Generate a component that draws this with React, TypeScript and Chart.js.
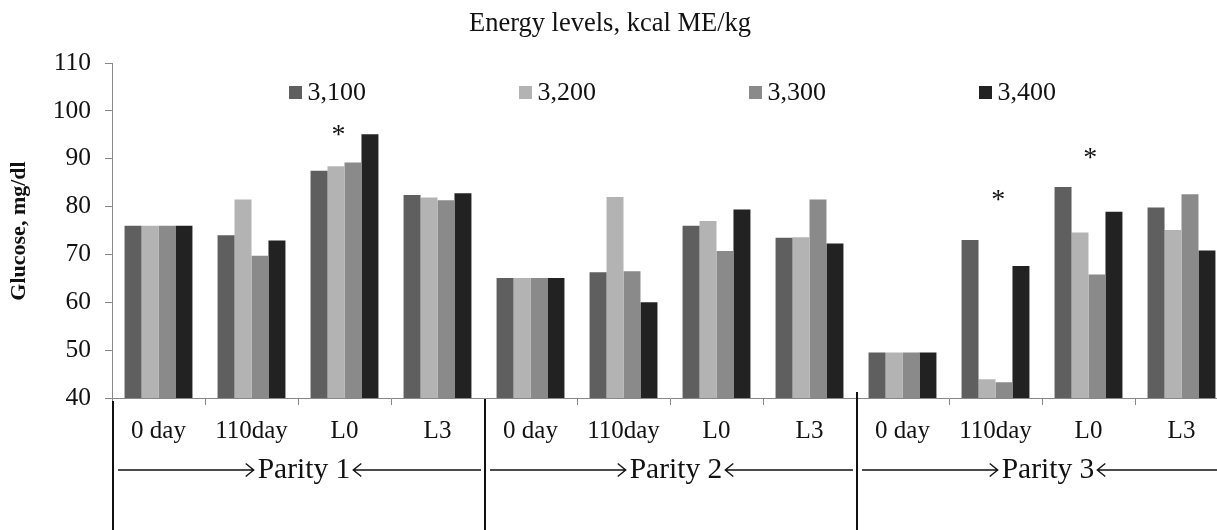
import React, { useEffect, useRef } from 'react';
import { Chart, registerables } from 'chart.js';
Chart.register(...registerables);

// ---------- data ----------
const categories = ['0 day', '110day', 'L0', 'L3', '0 day', '110day', 'L0', 'L3', '0 day', '110day', 'L0', 'L3'];
const energyLevels = ['3,100', '3,200', '3,300', '3,400'];
const glucose3100 = [76.0, 74.0, 87.5, 82.4, 65.1, 66.3, 76.0, 73.5, 49.5, 73.0, 84.1, 79.8];
const glucose3200 = [76.0, 81.5, 88.4, 81.9, 65.1, 82.0, 77.0, 73.6, 49.5, 43.9, 74.6, 75.1];
const glucose3300 = [76.0, 69.7, 89.2, 81.3, 65.1, 66.5, 70.7, 81.5, 49.5, 43.3, 65.8, 82.6];
const glucose3400 = [76.0, 72.9, 95.1, 82.8, 65.1, 60.0, 79.4, 72.3, 49.5, 67.6, 78.9, 70.8];
const parityLabels = ['Parity 1', 'Parity 2', 'Parity 3'];
const parityStartIndex = [0, 4, 8];
const parityCategoryCount = 4;
const starCategoryPos = [1.935, 9.03, 10.02];
const starLevels = [96.2, 82.6, 91.3];
const yMin = 40;
const yMax = 110;
const yStep = 10;
const chartTitle = 'Energy levels, kcal ME/kg';
const yAxisTitle = 'Glucose, mg/dl';

// ---------- styles ----------
const FONT = "'Liberation Serif', 'Times New Roman', serif";
const seriesColors = ['#5f5f5f', '#b3b3b3', '#8a8a8a', '#222222'];
const axisGray = '#888888';
const ink = '#111111';

export default function App() {
  const ref = useRef<HTMLCanvasElement>(null);

  useEffect(() => {
    const canvas = ref.current;
    if (!canvas) return;
    const seriesValues = [glucose3100, glucose3200, glucose3300, glucose3400];

    const decor = {
      id: 'decor',
      afterDraw(chart: any) {
        const ctx = chart.ctx as CanvasRenderingContext2D;
        const xs = chart.scales.x;
        const ys = chart.scales.y;
        const area = chart.chartArea;
        ctx.save();
        ctx.fillStyle = ink;

        // title
        ctx.font = `26.5px ${FONT}`;
        ctx.textAlign = 'center';
        ctx.textBaseline = 'middle';
        ctx.fillText(chartTitle, 610, 24);

        // legend
        ctx.font = `26px ${FONT}`;
        ctx.textAlign = 'left';
        chart.data.datasets.forEach((ds: any, i: number) => {
          const x = 289 + i * 230;
          ctx.fillStyle = ds.backgroundColor;
          ctx.fillRect(x, 86, 13, 13);
          ctx.fillStyle = ink;
          ctx.fillText(ds.label, x + 18.5, 93);
        });

        // y axis title
        ctx.save();
        ctx.translate(19.5, 231);
        ctx.rotate(-Math.PI / 2);
        ctx.font = `bold 22px ${FONT}`;
        ctx.textAlign = 'center';
        ctx.textBaseline = 'middle';
        ctx.fillText(yAxisTitle, 0, 0);
        ctx.restore();

        // significance stars
        ctx.font = `28px ${FONT}`;
        ctx.textAlign = 'center';
        ctx.textBaseline = 'alphabetic';
        starCategoryPos.forEach((c, i) => {
          const x = xs.getPixelForValue(c);
          const y = ys.getPixelForValue(starLevels[i]);
          ctx.fillText('*', x, y + 14);
        });

        // parity dividers and arrows
        const catW = (area.right - area.left) / categories.length;
        const dividerTopOffsets = [3, 1, -6];
        ctx.strokeStyle = ink;
        ctx.lineWidth = 2;
        parityStartIndex.forEach((s, i) => {
          const x = Math.round(area.left + s * catW) + 1;
          ctx.beginPath();
          ctx.moveTo(x, area.bottom + dividerTopOffsets[i]);
          ctx.lineTo(x, chart.height);
          ctx.stroke();
        });

        const ay = 470;
        ctx.font = `29.5px ${FONT}`;
        ctx.textAlign = 'center';
        ctx.textBaseline = 'middle';
        ctx.lineWidth = 1.4;
        parityStartIndex.forEach((s, i) => {
          const L = area.left + s * catW;
          const R = area.left + (s + parityCategoryCount) * catW;
          const c = (L + R) / 2 + 6;
          const w = ctx.measureText(parityLabels[i]).width;
          ctx.fillText(parityLabels[i], c, ay);
          const tipR = c - w / 2 - 4;
          const tipL = c + w / 2 + 3;
          ctx.beginPath();
          ctx.moveTo(L + 6, ay);
          ctx.lineTo(tipR, ay);
          ctx.moveTo(tipR - 8, ay - 6.5);
          ctx.lineTo(tipR, ay);
          ctx.lineTo(tipR - 8, ay + 6.5);
          ctx.moveTo(tipL + 8, ay - 6.5);
          ctx.lineTo(tipL, ay);
          ctx.lineTo(tipL + 8, ay + 6.5);
          ctx.moveTo(tipL, ay);
          ctx.lineTo(R - 3, ay);
          ctx.stroke();
        });
        ctx.restore();
      },
    };

    const chart = new Chart(canvas, {
      type: 'bar',
      data: {
        labels: categories,
        datasets: energyLevels.map((lab, i) => ({
          label: lab,
          data: seriesValues[i],
          backgroundColor: seriesColors[i],
          borderWidth: 0,
          barPercentage: 1.0,
          categoryPercentage: 0.73,
        })),
      },
      options: {
        responsive: false,
        animation: false,
        devicePixelRatio: 1,
        layout: { padding: { top: 63, right: 0, bottom: 0, left: 0 } },
        plugins: {
          legend: { display: false },
          title: { display: false },
          tooltip: { enabled: false },
        },
        scales: {
          x: {
            ticks: {
              color: ink,
              font: { family: FONT, size: 25 },
              padding: 11,
              maxRotation: 0,
              autoSkip: false,
            },
            grid: { offset: true, drawOnChartArea: false, tickLength: 7, color: axisGray },
            border: { color: axisGray, width: 1 },
            afterFit: (s: any) => { s.height = 132; },
          },
          y: {
            min: yMin,
            max: yMax,
            ticks: {
              stepSize: yStep,
              color: ink,
              font: { family: FONT, size: 25.5 },
              padding: 14,
            },
            grid: { drawOnChartArea: false, tickLength: 7, color: axisGray },
            border: { color: axisGray, width: 1 },
            afterFit: (s: any) => { s.width = 112; },
          },
        },
      },
      plugins: [decor],
    });
    return () => chart.destroy();
  }, []);

  return (
    <div style={{ position: 'fixed', left: 0, top: 0, width: 1217, height: 530, overflow: 'hidden', background: '#fff' }}>
      <canvas ref={ref} width={1228} height={530} style={{ display: 'block', width: 1228, height: 530 }} />
    </div>
  );
}
